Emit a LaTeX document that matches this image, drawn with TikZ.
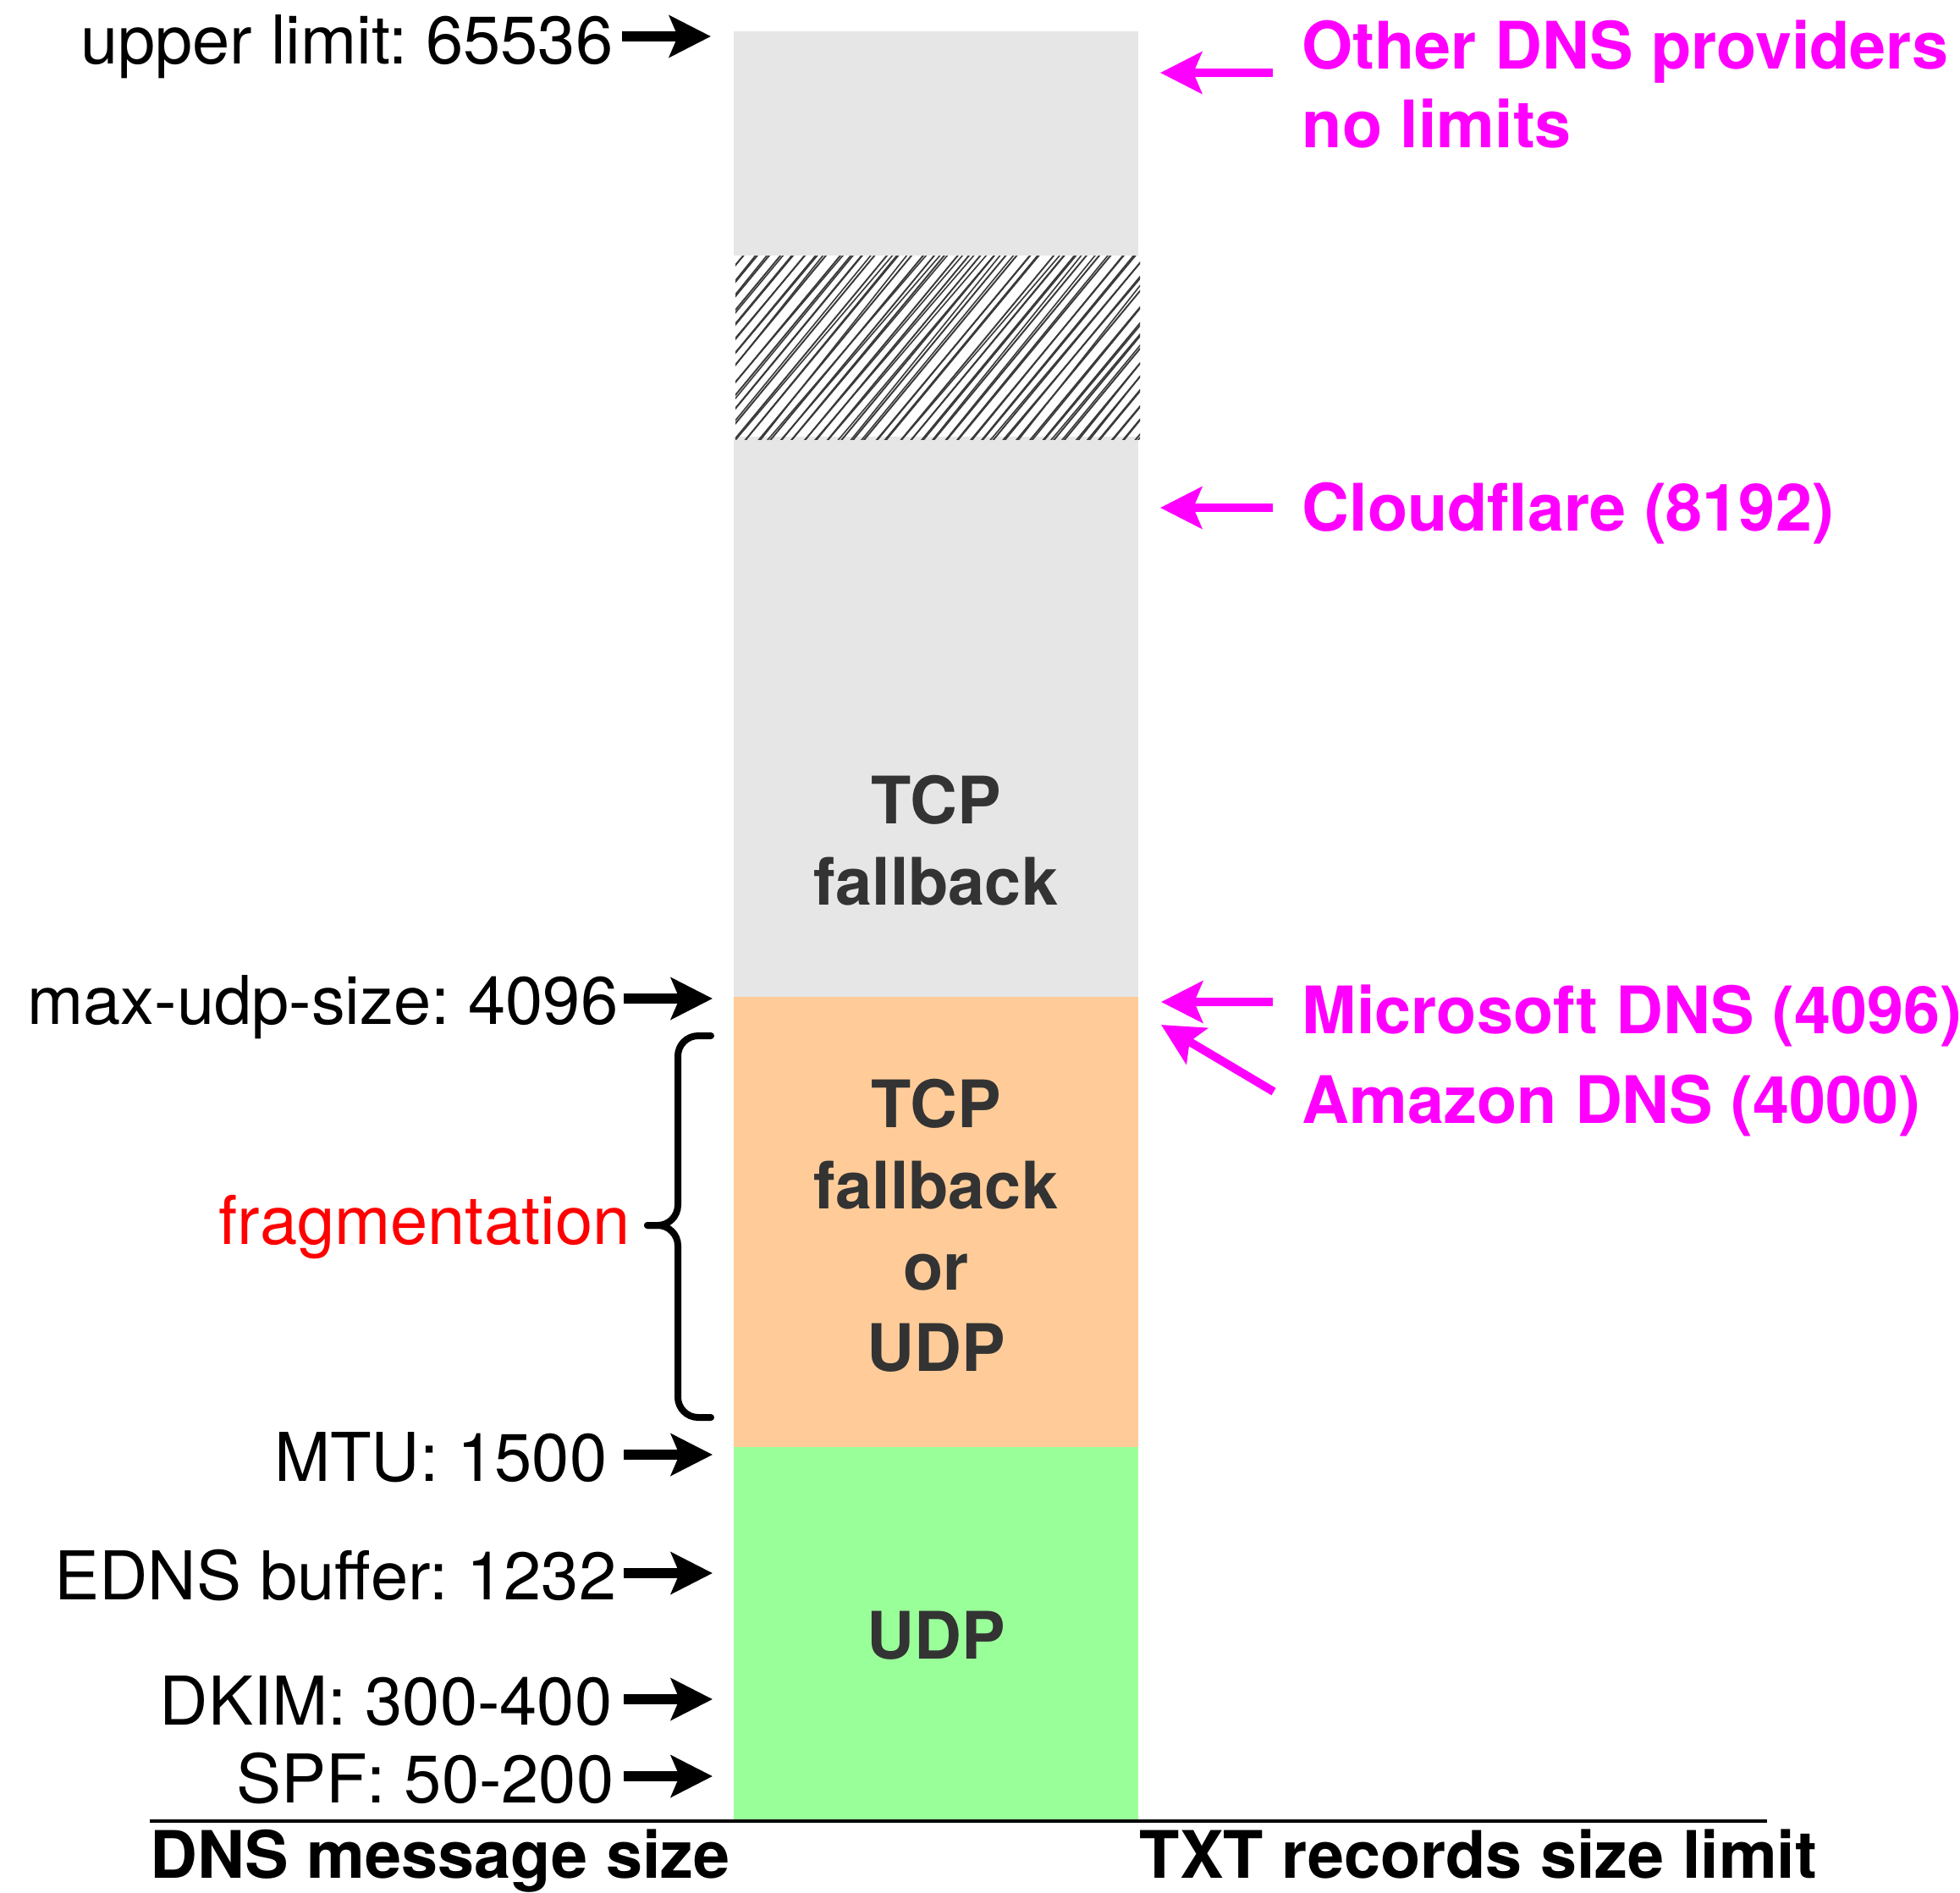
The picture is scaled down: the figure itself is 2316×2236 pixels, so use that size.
\documentclass[tikz,border=0pt]{standalone}
\usepackage{fontspec}
\setmainfont{TeX Gyre Heros}
\usetikzlibrary{arrows.meta}
\definecolor{gbar}{HTML}{E6E6E6}
\definecolor{obar}{HTML}{FFCC99}
\definecolor{grbar}{HTML}{99FF99}
\definecolor{dtext}{HTML}{333333}
\definecolor{mag}{HTML}{FF00FF}
\definecolor{hatchc}{HTML}{3A3A3A}
\frenchspacing
\begin{document}
\begin{tikzpicture}[x=0.01cm,y=-0.01cm,
  lab/.style={inner sep=0pt, font=\fontsize{22.6}{27}\selectfont},
  blab/.style={inner sep=0pt, font=\fontsize{22}{26}\selectfont\bfseries},
  bartext/.style={blab, text=dtext, anchor=base},
  provider/.style={blab, text=mag, anchor=base west},
  sizelab/.style={lab, anchor=base east},
  karrow/.style={line width=0.12cm, -{Stealth[length=0.49cm,width=0.49cm,inset=0.1cm]}},
  marrow/.style={karrow, mag, line width=0.1cm},
  bracestyle/.style={line width=0.08cm, rounded corners=0.24cm, line cap=round}
]
\useasboundingbox (0,0) rectangle (2316,2236);

% bar segments
\fill[gbar] (867,37) rectangle (1345,302);
\fill[gbar] (867,516) rectangle (1345,1178);
\fill[obar] (867,1178) rectangle (1345,1710);
\fill[grbar] (867,1710) rectangle (1345,2152);

% hatched (sketch) segment
\begin{scope}
  \clip (869,302) rectangle (1347,519);
  \pgfmathsetseed{7}
  \foreach \i in {0,...,48}{
    \pgfmathsetmacro\xa{684+14*\i+2*rand}
    \pgfmathsetmacro\ra{4*rand}
    \pgfmathsetmacro\rb{7*rand}
    \draw[hatchc, line width=0.55pt] (\xa,521) -- (\xa+183,300);
    \draw[hatchc, line width=0.45pt] (\xa+\ra,521) -- (\xa+183+\rb,300);
  }
\end{scope}

% baseline
\draw[line width=0.04cm] (177,2152) -- (2088,2152);

% left size labels
\node[sizelab] (upper) at (725,75) {upper limit: 65536};
\node[sizelab] (maxudp) at (731,1210) {max-udp-size: 4096};
\node[sizelab] (mtu) at (718,1750) {MTU: 1500};
\node[sizelab] (edns) at (729,1890) {EDNS buffer: 1232};
\node[sizelab] (dkim) at (724,2038) {DKIM: 300-400};
\node[sizelab] (spf) at (726,2130) {SPF: 50-200};

\coordinate (upperA) at (735,43);   \coordinate (upperB) at (840,43);
\coordinate (maxudpA) at (737,1180); \coordinate (maxudpB) at (842,1180);
\coordinate (mtuA) at (737,1719);   \coordinate (mtuB) at (842,1719);
\coordinate (ednsA) at (737,1859);  \coordinate (ednsB) at (842,1859);
\coordinate (dkimA) at (737,2008);  \coordinate (dkimB) at (842,2008);
\coordinate (spfA) at (737,2099);   \coordinate (spfB) at (842,2099);
\foreach \n in {upper,maxudp,mtu,edns,dkim,spf}{
  \draw[karrow] (\n A) -- (\n B);
}

% fragmentation brace
\draw[bracestyle] (840,1224) -- (801,1224) -- (801,1448) -- (765,1448);
\draw[bracestyle] (840,1675) -- (801,1675) -- (801,1448) -- (765,1448);
\node[lab, text=red, anchor=base east] (frag) at (745,1470) {fragmentation};

% bar texts
\node[bartext] (tcpa) at (1106,973) {TCP};
\node[bartext] (tcpb) at (1106,1069) {fallback};
\node[bartext] (mida) at (1106,1332) {TCP};
\node[bartext] (midb) at (1106,1428) {fallback};
\node[bartext] (midc) at (1106,1524) {or};
\node[bartext] (midd) at (1106,1620) {UDP};
\node[bartext] (udp) at (1106,1960) {UDP};

% providers
\node[provider] (other) at (1538,81) {Other DNS providers};
\node[provider] (otherb) at (1538,174) {no limits};
\node[provider] (cloud) at (1538,627) {Cloudflare (8192)};
\node[provider] (msft) at (1538,1221) {Microsoft DNS (4096)};
\node[provider] (amzn) at (1538,1327) {Amazon DNS (4000)};

\coordinate (otherA) at (1504,86);  \coordinate (otherB) at (1371,86);
\coordinate (cloudA) at (1504,600); \coordinate (cloudB) at (1371,600);
\coordinate (msftA) at (1504,1184); \coordinate (msftB) at (1372,1184);
\coordinate (amznA) at (1505,1290); \coordinate (amznB) at (1372,1211);
\foreach \n in {other,cloud,msft,amzn}{
  \draw[marrow] (\n A) -- (\n B);
}

% axis titles
\node[blab, anchor=base] (dnsize) at (520,2219) {DNS message size};
\node[blab, anchor=base] (txtlim) at (1747,2219) {TXT records size limit};
\end{tikzpicture}
\end{document}
